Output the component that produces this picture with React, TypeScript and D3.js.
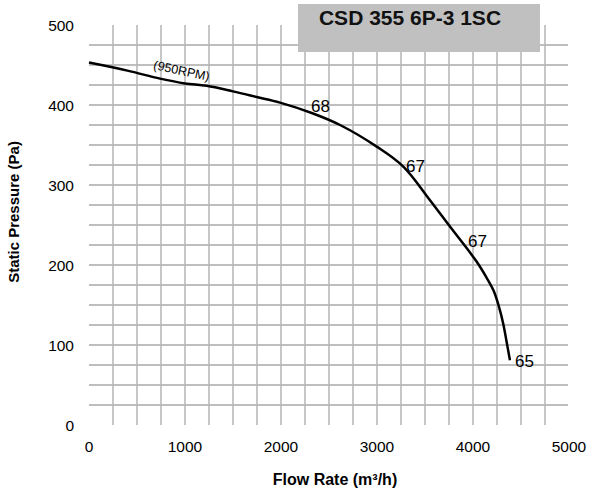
import * as d3 from 'd3'

const W = 590, H = 493

// fan curve
const flow = [0, 400, 740, 1000, 1226, 1500, 1747, 1990, 2320, 2615, 2997, 3274, 3552, 3760, 4039, 4142, 4214, 4270, 4316, 4350, 4385]
const pressure = [453, 443, 433, 427, 424, 417, 410, 403, 390, 375, 348, 323, 281, 248, 204, 184, 168, 148, 126, 104, 81]

const noiseLabels = ['68', '67', '67', '65']
const noiseFlow = [2312, 3302, 3948, 4437]
const noisePressure = [391, 316, 222, 72]

const xTicks = [0, 1000, 2000, 3000, 4000, 5000]
const yTicks = [0, 100, 200, 300, 400, 500]
const xGrid = d3.range(250, 5000, 250)
const yGrid = d3.range(25, 500, 25)

const title = 'CSD 355 6P-3 1SC'
const font = 'Arial, "Liberation Sans", sans-serif'

export default function App() {
  const x = d3.scaleLinear([0, 5000], [89, 569])
  const y = d3.scaleLinear([0, 500], [425, 25])

  const line = d3.line<number>()
    .x((_, i) => x(flow[i]))
    .y((d) => y(d))
    .curve(d3.curveCatmullRom.alpha(0.5))

  return (
    <div style={{ position: 'absolute', left: 0, top: 0 }}>
      <svg width={W} height={H} style={{ display: 'block', background: '#fff' }} fontFamily={font}>
        {/* grid */}
        {yGrid.map((v) => (
          <line key={'h' + v} x1={x(0)} x2={x(4990)} y1={y(v)} y2={y(v)} stroke="#a8a8a8" strokeWidth={1.3} />
        ))}
        {xGrid.map((v) => (
          <line key={'v' + v} x1={x(v)} x2={x(v)} y1={y(500)} y2={y(0)} stroke="#b4b4b4" strokeWidth={1.5} />
        ))}

        {/* title box */}
        <rect x={298} y={4} width={242} height={48} fill="#c0c0c0" />
        <text x={410} y={25} textAnchor="middle" fontWeight="bold" fontSize={21} fill="#111">{title}</text>

        {/* curve */}
        <path d={line(pressure) ?? ''} fill="none" stroke="#000" strokeWidth={2.5} strokeLinejoin="round" />
        <text transform={`translate(${x(665)},${y(445)}) rotate(12)`} fontSize={12.5} fill="#000">(950RPM)</text>
        {noiseLabels.map((t, i) => (
          <text key={'n' + i} x={x(noiseFlow[i])} y={y(noisePressure[i])} fontSize={17} fill="#000">{t}</text>
        ))}

        {/* tick labels */}
        {xTicks.map((v) => (
          <text key={'xt' + v} x={x(v)} y={452} textAnchor="middle" fontSize={15.5} fill="#000">{v}</text>
        ))}
        {yTicks.map((v) => (
          <text key={'yt' + v} x={74} y={y(v) + 5.5} textAnchor="end" fontSize={15.5} fill="#000">{v}</text>
        ))}

        {/* axis titles */}
        <text x={335} y={485} textAnchor="middle" fontWeight="bold" fontSize={16} fill="#000">Flow Rate (m³/h)</text>
        <text transform="translate(19,212) rotate(-90)" textAnchor="middle" fontWeight="bold" fontSize={15} fill="#000">Static Pressure (Pa)</text>
      </svg>
    </div>
  )
}
